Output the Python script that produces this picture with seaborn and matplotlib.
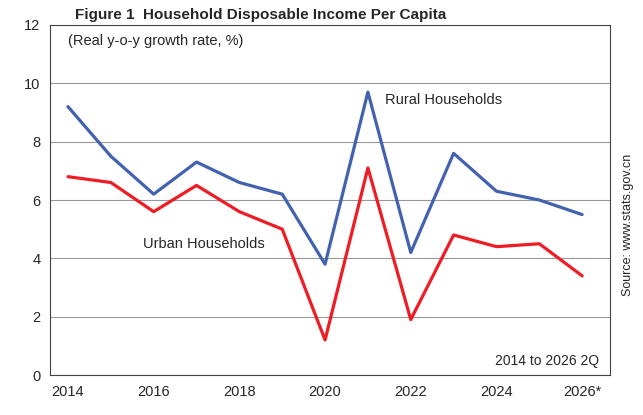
import numpy as np
import pandas as pd
import matplotlib
matplotlib.use("Agg")
import matplotlib.pyplot as plt
import seaborn as sns

# Daten
years = list(range(2014, 2027))
rural = [9.2, 7.5, 6.2, 7.3, 6.6, 6.2, 3.8, 9.7, 4.2, 7.6, 6.3, 6.0, 5.5]
urban = [6.8, 6.6, 5.6, 6.5, 5.6, 5.0, 1.2, 7.1, 1.9, 4.8, 4.4, 4.5, 3.4]
tick_years = [2014, 2016, 2018, 2020, 2022, 2024, 2026]
tick_labels = ["2014", "2016", "2018", "2020", "2022", "2024", "2026*"]

df = pd.DataFrame({"year": years, "Rural": rural, "Urban": urban})

sns.set_style("white")
plt.rcParams["font.family"] = ["Liberation Sans", "DejaVu Sans"]

fig = plt.figure(figsize=(6.43, 4.15), dpi=100)
ax = fig.add_axes([50 / 643, 40 / 415, 560 / 643, 350 / 415])

sns.lineplot(data=df, x="year", y="Rural", ax=ax, color="#4262B0", linewidth=2.3)
sns.lineplot(data=df, x="year", y="Urban", ax=ax, color="#EE1C25", linewidth=2.3)

ax.set_xlim(2013.58, 2026.65)
ax.set_ylim(0, 12)
ax.set_yticks(range(0, 13, 2))
ax.set_xticks(tick_years)
ax.set_xticklabels(tick_labels)
ax.set_xticks(years, minor=True)
ax.tick_params(axis="x", which="both", direction="out", length=4, labelsize=10.5)
ax.tick_params(axis="y", labelsize=10.5)
ax.yaxis.grid(True, color="#999999", linewidth=0.8)
ax.set_xlabel("")
ax.set_ylabel("")
for s in ax.spines.values():
    s.set_color("#444444")
    s.set_linewidth(0.8)

ax.text(2014.0, 11.3, "(Real y-o-y growth rate, %)", fontsize=10.5)
ax.text(2021.4, 9.3, "Rural Households", fontsize=10.5)
ax.text(2015.75, 4.35, "Urban Households", fontsize=10.5)
ax.text(2026.4, 0.35, "2014 to 2026 2Q", fontsize=10, ha="right")

fig.text(75 / 643, 1 - 15 / 415, "Figure 1  Household Disposable Income Per Capita",
         fontsize=11, fontweight="bold", va="center")
fig.text(628 / 643, 1 - 225 / 415, "Source: www.stats.gov.cn", rotation=90,
         fontsize=9, ha="center", va="center")

fig.savefig("out.png", dpi=100)
